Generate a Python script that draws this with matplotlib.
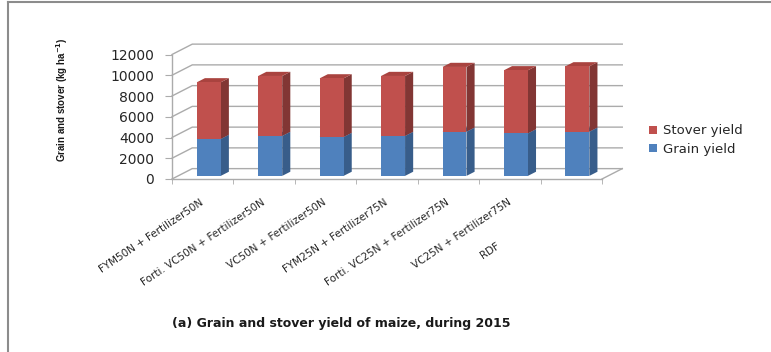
import matplotlib.pyplot as plt
from matplotlib.patches import Polygon
from matplotlib.lines import Line2D
from matplotlib.transforms import ScaledTranslation

treatments = ['FYM50N + Fertilizer50N', 'Forti. VC50N + Fertilizer50N', 'VC50N + Fertilizer50N',
              'FYM25N + Fertilizer75N', 'Forti. VC25N + Fertilizer75N', 'VC25N + Fertilizer75N', 'RDF']
grain_yield = [3560, 3850, 3750, 3850, 4260, 4100, 4260]
stover_yield = [5460, 5780, 5650, 5780, 6240, 6080, 6300]
y_ticks = [0, 2000, 4000, 6000, 8000, 10000, 12000]

W, H = 771, 352
fig = plt.figure(figsize=(W / 100, H / 100), dpi=100)
ax = fig.add_axes([172 / W, 1 - 179 / H, 430 / W, 124.5 / H])
ax.set_xlim(-0.5, 6.5)
ax.set_ylim(0, 12000)

# fake 3d depth (in data units)
DX, DY = 0.33, 1000
grid_c = '#ababab'

# walls / floor
for t in y_ticks:
    ax.plot([-0.5, -0.5 + DX, 6.5 + DX], [t, t + DY, t + DY], color=grid_c, lw=1,
            clip_on=False, zorder=1)
ax.plot([6.5, 6.5 + DX], [0, DY], color=grid_c, lw=1, clip_on=False, zorder=1)

# bars (front faces)
xs = list(range(len(treatments)))
fx = [x + 0.3 * DX for x in xs]
bw = 0.39
b0 = 0.3 * DY
stover_bottom = [b0 + g for g in grain_yield]
blue, blue_side, blue_top = '#4f81bd', '#385d8a', '#4574aa'
red, red_side, red_top = '#c0504d', '#823634', '#a9433f'

grain_bars = ax.bar(fx, grain_yield, bw, bottom=b0, color=blue, zorder=3, clip_on=False,
                    label='Grain yield')
stover_bars = ax.bar(fx, stover_yield, bw, bottom=stover_bottom, color=red, zorder=3,
                     clip_on=False, label='Stover yield')

# side and top faces
sx, sy = 0.4 * DX, 0.4 * DY
for bars, side_c, top_c in [(grain_bars, blue_side, blue_top), (stover_bars, red_side, red_top)]:
    for r in bars:
        x0, y0 = r.get_x(), r.get_y()
        x1, y1 = x0 + r.get_width(), y0 + r.get_height()
        ax.add_patch(Polygon([(x1, y0), (x1 + sx, y0 + sy), (x1 + sx, y1 + sy), (x1, y1)],
                             closed=True, fc=side_c, ec='none', zorder=2.9, clip_on=False))
        ax.add_patch(Polygon([(x0, y1), (x0 + sx, y1 + sy), (x1 + sx, y1 + sy), (x1, y1)],
                             closed=True, fc=top_c, ec='none', zorder=2.9, clip_on=False))

for s in ['top', 'right']:
    ax.spines[s].set_visible(False)
for s in ['left', 'bottom']:
    ax.spines[s].set_color(grid_c)
    ax.spines[s].set_linewidth(1)
ax.set_facecolor('none')

ax.set_yticks(y_ticks)
ax.tick_params(axis='y', direction='out', length=5, color=grid_c, pad=8, labelsize=10,
               labelcolor='#262626')

ax.set_xticks(xs)
ax.set_xticklabels(treatments, rotation=34, ha='right', va='center', rotation_mode='anchor',
                   fontsize=7.5, color='#262626')
ax.tick_params(axis='x', which='major', length=0, pad=16)
ax.set_xticks([x - 0.5 for x in xs] + [6.5], minor=True)
ax.tick_params(axis='x', which='minor', direction='out', length=3.5, color=grid_c)

# the short last label sits lower
last = ax.get_xticklabels()[-1]
last.set_transform(last.get_transform() + ScaledTranslation(-52 / 72, -31 / 72, fig.dpi_scale_trans))

fig.text(62 / W, 1 - 100 / H, 'Grain and stover (kg ha$^{\\mathbf{-1}}$)', rotation=90,
         ha='center', va='center', fontsize=7, fontweight='bold', color='#1a1a1a',
         family='Liberation Sans')

fig.legend(handles=[stover_bars, grain_bars], labels=['Stover yield', 'Grain yield'],
           loc='center left', bbox_to_anchor=(637 / W, 1 - 140 / H), frameon=False,
           fontsize=9.5, handlelength=0.6, handleheight=0.6, handletextpad=0.5,
           labelspacing=0.4, labelcolor='#262626')

fig.text(341 / W, 1 - 324 / H, '(a) Grain and stover yield of maize, during 2015',
         ha='center', va='center', fontsize=9, fontweight='bold', color='#1a1a1a')

# frame edge
fig.add_artist(Line2D([8 / W, 1], [1 - 2 / H, 1 - 2 / H], color='#8c8c8c', lw=1.5))
fig.add_artist(Line2D([8 / W, 8 / W], [0, 1 - 2 / H], color='#8c8c8c', lw=1.5))

fig.savefig('out.png', dpi=100)
